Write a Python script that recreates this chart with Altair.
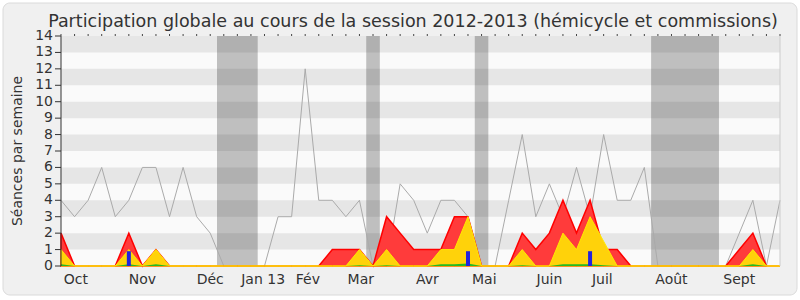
import altair as alt
import pandas as pd

weeks = list(range(54))
total = [4, 3, 4, 6, 3, 4, 6, 6, 3, 6, 3, 2, 0, 0, 0, 0, 3, 3, 12, 4,
         4, 3, 4, 0, 0, 5, 4, 2, 4, 4, 3, 0, 0, 4, 8, 3, 5, 3, 6, 3,
         8, 4, 4, 6, 0, 0, 0, 0, 0, 0, 2, 4, 0, 4]
red = [2, 0, 0, 0, 0, 2, 0, 1, 0, 0, 0, 0, 0, 0, 0, 0, 0, 0, 0, 0,
       1, 1, 1, 0, 3, 2, 1, 1, 1, 3, 3, 0, 0, 0, 2, 1, 2, 4, 2, 4,
       1, 1, 0, 0, 0, 0, 0, 0, 0, 0, 1, 2, 0, 0]
yellow = [1, 0, 0, 0, 0, 1, 0, 1, 0, 0, 0, 0, 0, 0, 0, 0, 0, 0, 0, 0,
          0, 0, 1, 0, 1, 0, 0, 0, 1, 1, 3, 0, 0, 0, 1, 0, 0, 2, 1, 3,
          1.5, 0, 0, 0, 0, 0, 0, 0, 0, 0, 0, 1, 0, 0]
green = [0.1, 0, 0, 0, 0, 0.1, 0, 0.1, 0, 0, 0, 0, 0, 0, 0, 0, 0, 0, 0, 0,
         0, 0, 0.05, 0, 0.05, 0, 0, 0, 0.1, 0.1, 0.15, 0, 0, 0, 0.05, 0, 0, 0.1, 0.1, 0.1,
         0.05, 0, 0, 0, 0, 0, 0, 0, 0, 0, 0, 0.1, 0, 0]
blue = [0, 0, 0, 0, 0, 0.9, 0, 0, 0, 0, 0, 0, 0, 0, 0, 0, 0, 0, 0, 0,
        0, 0, 0, 0, 0, 0, 0, 0, 0, 0, 0.9, 0, 0, 0, 0, 0, 0, 0, 0, 0.9,
        0, 0, 0, 0, 0, 0, 0, 0, 0, 0, 0, 0, 0, 0]
month_labels = ["Oct", "Nov", "Déc", "Jan 13", "Fév", "Mar", "Avr", "Mai",
                "Juin", "Juil", "Août", "Sept"]
month_pos = [1.1, 6.0, 11.0, 14.9, 18.2, 22.1, 27.0, 31.2, 36.0, 39.9, 45.0, 50.0]
vac_start = [11.5, 22.5, 30.5, 43.5]
vac_end = [14.5, 23.5, 31.5, 48.5]
stripe_lo = [1, 3, 5, 7, 9, 11, 13]
y_ticks = list(range(15))
title_text = "Participation globale au cours de la session 2012-2013 (hémicycle et commissions)"

W, H = 719, 230
TXT = "#333333"

df = pd.DataFrame({"week": weeks, "total": total, "red": red, "yellow": yellow,
                   "green": green, "blue": blue})
months = pd.DataFrame({"label": month_labels, "pos": month_pos})
vac = pd.DataFrame({"s": vac_start, "e": vac_end})
stripes = pd.DataFrame({"lo": stripe_lo, "hi": [v + 1 for v in stripe_lo]})
yt = pd.DataFrame({"v": y_ticks})
one = pd.DataFrame({"a": [0]})
tdf = pd.DataFrame({"t": [title_text]})

xs = alt.Scale(domain=[0, 53], nice=False, zero=False, padding=0)
ys = alt.Scale(domain=[0, 14], nice=False, padding=0)
xaxis = alt.Axis(values=weeks, labels=False, tickSize=5, tickColor=TXT,
                 domainColor="#6a2a2a", title=None, grid=False)


def X(f):
    return alt.X(f, scale=xs, axis=xaxis)


def Y(f):
    return alt.Y(f, scale=ys, axis=None)


frame = alt.Chart(one).mark_rect(cornerRadius=7, fill="#f0f0f0", stroke="#dadada").encode(
    x=alt.value(-58), x2=alt.value(736), y=alt.value(-33), y2=alt.value(259))
plotbg = alt.Chart(one).mark_rect(fill="#fafafa").encode(
    x=alt.value(0), x2=alt.value(W), y=alt.value(0), y2=alt.value(H))
shade = alt.Chart(vac).mark_rect(fill="#bfbfbf").encode(
    x=X("s:Q"), x2="e:Q", y=alt.value(0), y2=alt.value(H))
stripe = alt.Chart(stripes).mark_rect(fill="black", opacity=0.08).encode(
    y=Y("lo:Q"), y2="hi:Q", x=alt.value(0), x2=alt.value(W))

base = alt.Chart(df)
gray = base.mark_line(color="#aaaaaa", strokeWidth=1).encode(x=X("week:Q"), y=Y("total:Q"))
red_a = base.mark_area(fill="#ff3b3b", stroke="#ff0000", strokeWidth=1.5).encode(
    x=X("week:Q"), y=Y("red:Q"))
yel_a = base.mark_area(fill="#ffd20a", stroke="#ffea00", strokeWidth=1).encode(
    x=X("week:Q"), y=Y("yellow:Q"))
grn_a = base.mark_area(fill="#22bb22").encode(x=X("week:Q"), y=Y("green:Q"))
bars = base.mark_bar(color="#2222dd", size=4).encode(x=X("week:Q"), y=Y("blue:Q"))
topticks = base.mark_rule(color="#444444").encode(
    x=X("week:Q"), y=alt.value(-2), y2=alt.value(0))
rborder = alt.Chart(one).mark_rule(color="#cccccc").encode(
    x=alt.value(W), y=alt.value(0), y2=alt.value(H))
# y axis drawn explicitly (line, ticks, labels, title) so it sits above the frame
ydomain = alt.Chart(one).mark_rule(color=TXT).encode(
    x=alt.value(0), y=alt.value(0), y2=alt.value(H))
yticks = alt.Chart(yt).mark_rule(color=TXT).encode(
    y=Y("v:Q"), x=alt.value(-6), x2=alt.value(0))
ylabels = alt.Chart(yt).mark_text(fontSize=14, color=TXT, align="right",
                                  baseline="middle").encode(
    y=Y("v:Q"), x=alt.value(-8), text="v:Q")
ytitle = alt.Chart(pd.DataFrame({"t": ["Séances par semaine"]})).mark_text(
    fontSize=14, color=TXT, angle=270, align="center", baseline="alphabetic").encode(
    x=alt.value(-39), y=alt.value(H / 2), text="t:N")
mlabels = alt.Chart(months).mark_text(fontSize=14, color=TXT, baseline="alphabetic",
                                      align="center").encode(
    x=X("pos:Q"), y=alt.value(248), text="label:N")
title = alt.Chart(tdf).mark_text(fontSize=17.5, color=TXT, baseline="alphabetic",
                                 align="center").encode(
    x=alt.value(352), y=alt.value(-9), text="t:N")

chart = alt.layer(frame, plotbg, shade, stripe, gray, red_a, yel_a, grn_a, bars,
                  topticks, rborder, ydomain, yticks, ylabels, ytitle,
                  mlabels, title).properties(
    width=W, height=H,
    autosize=alt.AutoSizeParams(type="none"),
    padding={"left": 61, "top": 36, "right": 20, "bottom": 34},
    background="white",
).configure(font="DejaVu Sans").configure_view(stroke=None).configure_axis(zindex=1)

chart.save("out.html", embed_options={"renderer": "svg", "actions": False})
